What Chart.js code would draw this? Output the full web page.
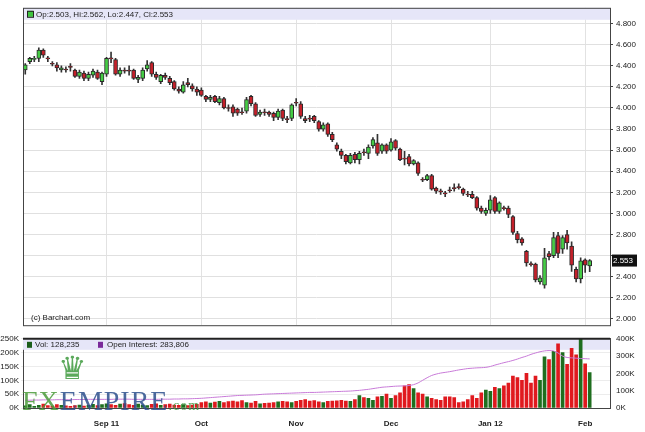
<!DOCTYPE html>
<html><head><meta charset="utf-8">
<script src="https://cdn.jsdelivr.net/npm/chart.js@4/dist/chart.umd.min.js"></script>
<style>
body{margin:0;background:#fff;width:645px;height:432px;overflow:hidden;position:relative;font-family:"Liberation Sans",Arial,sans-serif}
#cm{position:absolute;left:0;top:0}
#cv{position:absolute;left:0;top:331px}
#logo{position:absolute;left:22px;top:386px;font-family:"Liberation Serif","DejaVu Serif",serif;font-size:28px;letter-spacing:1px;pointer-events:none;opacity:.85;line-height:30px}
#crown{position:absolute;left:58px;top:352px;font-size:32px;color:#3f9a3f;line-height:32px;pointer-events:none;opacity:.85}
</style></head><body>
<canvas id="cm" width="645" height="333"></canvas>
<canvas id="cv" width="645" height="101"></canvas>
<div id="crown">♛</div>
<div id="logo"><span style="color:#4a9a3a">FX</span><span style="color:#2c4f8c">EMPIRE</span><span style="color:#3f9a3f;font-size:14px">.com</span></div>
<script>
const opens=[4.36,4.44,4.46,4.47,4.55,4.47,4.42,4.41,4.36,4.37,4.39,4.36,4.30,4.33,4.28,4.31,4.34,4.25,4.32,4.47,4.46,4.32,4.36,4.36,4.36,4.27,4.28,4.37,4.43,4.32,4.25,4.31,4.28,4.25,4.18,4.15,4.24,4.21,4.18,4.17,4.11,4.08,4.11,4.05,4.09,4.00,4.01,3.99,3.96,3.97,4.11,4.04,3.94,3.96,3.96,3.95,3.91,3.98,3.90,3.90,4.05,4.04,3.90,3.90,3.92,3.87,3.80,3.85,3.75,3.65,3.59,3.55,3.48,3.56,3.51,3.58,3.57,3.64,3.67,3.59,3.65,3.60,3.69,3.61,3.52,3.54,3.47,3.48,3.32,3.32,3.36,3.24,3.21,3.19,3.22,3.24,3.25,3.23,3.18,3.18,3.15,3.05,3.00,3.03,3.15,3.02,3.05,3.05,2.97,2.81,2.76,2.64,2.52,2.52,2.35,2.32,2.62,2.60,2.79,2.66,2.80,2.69,2.47,2.38,2.56,2.503];
const closes=[4.41,4.47,4.47,4.55,4.50,4.465,4.415,4.38,4.38,4.36,4.385,4.30,4.34,4.28,4.32,4.35,4.28,4.33,4.47,4.465,4.32,4.36,4.35,4.35,4.28,4.29,4.36,4.41,4.32,4.29,4.31,4.29,4.24,4.18,4.16,4.22,4.22,4.18,4.15,4.12,4.08,4.10,4.06,4.09,4.00,3.995,3.95,3.95,3.955,4.08,4.04,3.93,3.96,3.955,3.94,3.91,3.97,3.90,3.89,4.03,4.045,3.92,3.88,3.895,3.88,3.80,3.84,3.75,3.70,3.61,3.55,3.49,3.55,3.51,3.57,3.575,3.63,3.70,3.57,3.65,3.59,3.68,3.62,3.51,3.515,3.47,3.50,3.38,3.315,3.36,3.23,3.21,3.205,3.185,3.215,3.235,3.245,3.19,3.175,3.15,3.05,3.02,3.03,3.13,3.02,3.10,3.045,2.99,2.82,2.75,2.72,2.53,2.515,2.37,2.39,2.58,2.59,2.77,2.62,2.77,2.72,2.51,2.38,2.55,2.51,2.553];
const highs=[4.42,4.48,4.49,4.57,4.56,4.49,4.44,4.43,4.40,4.39,4.42,4.37,4.36,4.35,4.34,4.37,4.36,4.34,4.48,4.53,4.47,4.38,4.38,4.40,4.37,4.31,4.38,4.45,4.44,4.34,4.32,4.33,4.30,4.26,4.20,4.25,4.28,4.23,4.20,4.19,4.12,4.12,4.12,4.11,4.10,4.03,4.03,4.00,4.00,4.10,4.12,4.05,3.98,3.99,3.97,3.96,3.99,3.99,3.92,4.04,4.09,4.06,3.92,3.93,3.93,3.88,3.86,3.86,3.77,3.67,3.61,3.56,3.57,3.58,3.59,3.61,3.65,3.72,3.75,3.66,3.66,3.71,3.70,3.62,3.59,3.56,3.51,3.49,3.34,3.37,3.37,3.25,3.23,3.21,3.25,3.28,3.28,3.24,3.21,3.21,3.16,3.07,3.05,3.17,3.16,3.11,3.07,3.07,2.98,2.83,2.77,2.65,2.54,2.53,2.41,2.67,2.64,2.82,2.82,2.79,2.84,2.73,2.49,2.58,2.57,2.562];
const lows=[4.32,4.42,4.44,4.44,4.48,4.44,4.40,4.35,4.34,4.34,4.35,4.29,4.28,4.26,4.26,4.29,4.27,4.22,4.30,4.43,4.31,4.30,4.33,4.31,4.27,4.24,4.26,4.35,4.30,4.27,4.23,4.27,4.22,4.17,4.14,4.14,4.20,4.16,4.12,4.11,4.06,4.06,4.05,4.03,3.99,3.97,3.92,3.93,3.94,3.95,4.02,3.92,3.92,3.93,3.92,3.88,3.89,3.88,3.86,3.88,4.02,3.90,3.86,3.87,3.86,3.78,3.78,3.73,3.68,3.59,3.52,3.47,3.47,3.48,3.47,3.55,3.52,3.62,3.55,3.57,3.57,3.59,3.60,3.50,3.46,3.45,3.46,3.36,3.30,3.31,3.22,3.19,3.18,3.16,3.20,3.21,3.23,3.17,3.16,3.14,3.03,3.00,2.98,3.00,3.00,3.00,3.03,2.96,2.80,2.72,2.70,2.50,2.50,2.35,2.33,2.29,2.56,2.58,2.58,2.62,2.66,2.45,2.35,2.34,2.44,2.447];
const volumeK=[8,12,6,10,14,9,7,12,10,8,6,9,11,7,10,13,9,12,
15,12,10,14,16,12,10,14,11,9,13,15,10,12,14,11,10,12,9,11,13,
20,22,18,21,24,20,23,25,22,27,20,18,24,15,17,18,20,22,24,22,20,
24,28,30,25,27,22,20,24,25,26,28,25,24,30,45,38,35,28,40,42,50,
35,45,55,80,85,70,55,50,40,35,30,28,40,40,38,20,22,30,45,35,55,65,
60,75,70,80,90,115,110,100,125,90,115,100,185,175,205,232,200,158,216,192,265,160,128.235];
const openInterestK=[45,45,46,46,47,47,47,48,48,48,48,49,49,49,50,50,50,50,50,50,51,51,51,51,50,50,50,50,50,50,51,51,51,52,52,53,53,54,55,
56,58,60,62,64,66,68,70,72,73,74,75,76,78,80,81,82,83,84,85,86,
87,88,89,90,90,91,92,93,94,95,96,97,98,100,102,105,108,112,116,120,122,
124,126,127,128,130,135,145,160,175,188,196,202,206,210,215,220,224,228,230,232,233,235,
240,248,255,262,268,275,283,292,300,310,318,325,330,332,330,318,300,292,290,288,286,285,283.806];
const tickIndex=[18,39,60,81,103,124];
const tickText=['Sep 11','Oct','Nov','Dec','Jan 12','Feb'];
const priceTicks=[2.0,2.2,2.4,2.6,2.8,3.0,3.2,3.4,3.6,3.8,4.0,4.2,4.4,4.6,4.8];
const emptyDaysAfter=4;

const labels=opens.map((_,i)=>String(i)).concat(Array.from({length:emptyDaysAfter},(_,k)=>'e'+k));
const up=opens.map((o,i)=>closes[i]>=o);
const F='"Liberation Sans",Arial,sans-serif';
const lastClose=closes[closes.length-1];
const tickLab=(i)=>{const k=tickIndex.indexOf(i);return k<0?'':tickText[k];};
const gridCol=(c)=>tickIndex.includes(c.index)?'#e2e2e2':'rgba(0,0,0,0)';

const mainPlug={id:'mp',
 beforeDatasetsDraw(ch){const a=ch.chartArea,c=ch.ctx;c.save();c.fillStyle='#e6e6f8';c.fillRect(a.left,a.top,a.right-a.left,12);c.restore();},
 afterDraw(ch){const a=ch.chartArea,c=ch.ctx;c.save();
  c.strokeStyle='#444';c.lineWidth=1;c.strokeRect(a.left+.5,a.top+.5,a.right-a.left,a.bottom-a.top);
  c.fillStyle='#3ec43e';c.fillRect(a.left+4,a.top+3,6,6);c.strokeStyle='#222';c.strokeRect(a.left+4.5,a.top+3.5,6,6);
  const n=opens.length-1;c.fillStyle='#222';c.font='8px '+F;c.textBaseline='middle';
  c.fillText('Op:'+opens[n].toFixed(3)+', Hi:'+highs[n].toFixed(3)+', Lo:'+lows[n].toFixed(3)+', Cl:'+closes[n].toFixed(3),a.left+13,a.top+6.5);
  c.fillText('(c) Barchart.com',a.left+8,a.bottom-7);
  const y=ch.scales.y.getPixelForValue(lastClose);
  c.fillStyle='#111';c.fillRect(a.right+2,y-6,25,12);c.fillStyle='#fff';c.fillText(lastClose.toFixed(3),a.right+3,y);
  c.restore();}};

new Chart(document.getElementById('cm'),{type:'bar',
 data:{labels,datasets:[
  {data:opens.map((o,i)=>[o,closes[i]]),backgroundColor:up.map(u=>u?'#45cc45':'#c4202a'),borderColor:'#2a2a2a',borderWidth:1,borderSkipped:false,barThickness:4,minBarLength:1,grouped:false,order:1},
  {data:opens.map((o,i)=>[lows[i],highs[i]]),backgroundColor:'#333',barThickness:1,grouped:false,order:2}
 ]},
 options:{responsive:false,animation:false,maintainAspectRatio:false,devicePixelRatio:1,
  layout:{padding:{left:23,top:5,bottom:3,right:0}},
  plugins:{legend:{display:false},tooltip:{enabled:false}},
  scales:{
   x:{grid:{color:gridCol,offset:false,drawTicks:false},border:{display:false},ticks:{display:false,autoSkip:false},afterFit:s=>{s.height=0;}},
   y:{position:'right',min:1.94,max:4.95,afterBuildTicks:s=>{s.ticks=priceTicks.map(v=>({value:v}));},
      grid:{color:'#e0e0e0',drawTicks:true,tickLength:3,tickColor:'#444'},border:{display:false},
      ticks:{font:{size:8,family:F},color:'#222',padding:3,callback:v=>Math.abs(v-lastClose)<0.07?'':v.toFixed(3)},afterFit:s=>{s.width=35;}}
  }},plugins:[mainPlug]});

const volPlug={id:'vp',
 beforeDatasetsDraw(ch){const a=ch.chartArea,c=ch.ctx;c.save();c.fillStyle='#e6e6f8';c.fillRect(a.left,a.top,a.right-a.left,11);c.restore();},
 afterDraw(ch){const a=ch.chartArea,c=ch.ctx;c.save();
  c.strokeStyle='#222';c.lineWidth=2;c.beginPath();c.moveTo(a.left,a.top);c.lineTo(a.right,a.top);c.stroke();
  c.font='8px '+F;c.textBaseline='middle';
  c.fillStyle='#1b5e1b';c.fillRect(a.left+4,a.top+3,5,6);c.fillStyle='#222';
  c.fillText('Vol: '+Math.round(volumeK[volumeK.length-1]*1000).toLocaleString('en-US'),a.left+12,a.top+6);
  c.fillStyle='#7a2a9a';c.fillRect(a.left+75,a.top+3,5,6);c.fillStyle='#222';
  c.fillText('Open Interest: '+Math.round(openInterestK[openInterestK.length-1]*1000).toLocaleString('en-US'),a.left+84,a.top+6);
  c.restore();}};

new Chart(document.getElementById('cv'),{type:'bar',
 data:{labels,datasets:[
  {type:'line',data:openInterestK,yAxisID:'y2',borderColor:'#c87ad8',borderWidth:1,pointRadius:0,tension:0.3,order:0},
  {data:volumeK,yAxisID:'y',backgroundColor:up.map(u=>u?'#1f6e1f':'#e0191e'),barThickness:3,order:1}
 ]},
 options:{responsive:false,animation:false,maintainAspectRatio:false,devicePixelRatio:1,
  layout:{padding:{left:0,top:3,bottom:0,right:0}},
  plugins:{legend:{display:false},tooltip:{enabled:false}},
  scales:{
   x:{grid:{display:false},border:{color:'#444'},ticks:{autoSkip:false,maxRotation:0,font:{size:8,family:F,weight:'bold'},color:'#222',padding:3,callback:(v,i)=>tickLab(i)},afterFit:s=>{s.height=24;}},
   y:{position:'left',min:0,max:250,ticks:{stepSize:50,font:{size:8,family:F},color:'#222',padding:2,callback:v=>v+'K'},grid:{color:'#ececec',tickLength:2},border:{color:'#444'},afterFit:s=>{s.width=23;}},
   y2:{position:'right',min:0,max:400,ticks:{stepSize:100,font:{size:8,family:F},color:'#222',padding:3,callback:v=>v+'K'},grid:{display:false,tickLength:3},border:{color:'#444'},afterFit:s=>{s.width=35;}}
  }},plugins:[volPlug]});
</script></body></html>
